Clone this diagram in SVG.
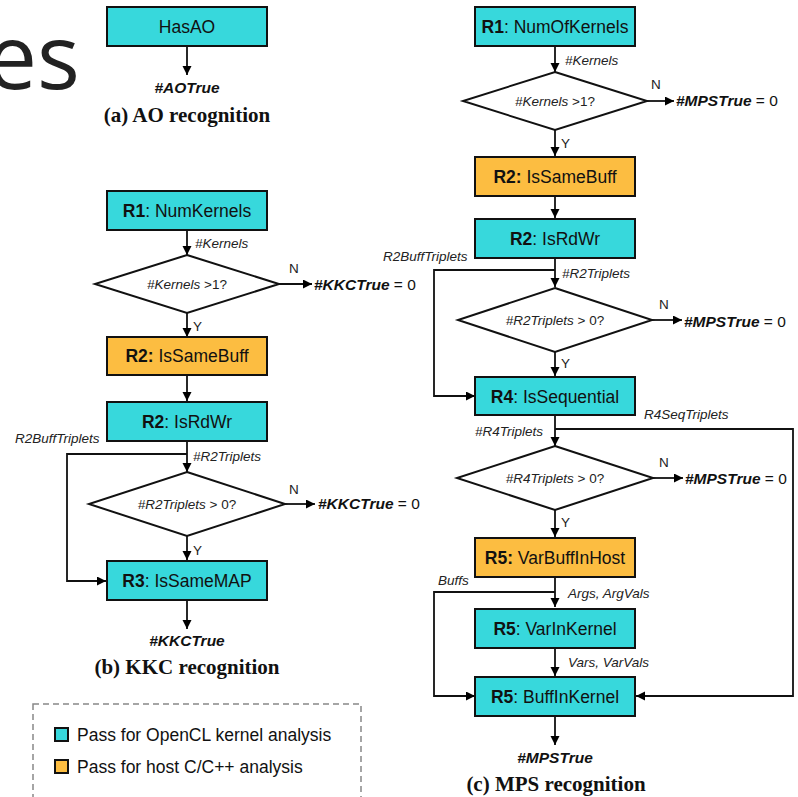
<svg xmlns="http://www.w3.org/2000/svg" width="798" height="797" viewBox="0 0 798 797">
<defs>
<marker id="ah" markerUnits="userSpaceOnUse" markerWidth="10" markerHeight="10" refX="9" refY="4.5" orient="auto">
<path d="M0,0 L9,4.5 L0,9 z" fill="#000"/>
</marker>
</defs>
<style>
.cy{fill:#37d8dc;stroke:#111;stroke-width:2}
.or{fill:#fcbd41;stroke:#111;stroke-width:2}
.dm{fill:#fff;stroke:#111;stroke-width:2}
.bt{font-family:"Liberation Sans",Arial,sans-serif;font-size:17.5px;fill:#111;text-anchor:middle}
.lb{font-family:"Liberation Sans",Arial,sans-serif;font-size:13.5px;fill:#222;font-style:italic}
.yn{font-family:"Liberation Sans",Arial,sans-serif;font-size:13.5px;fill:#222}
.rs{font-family:"Liberation Sans",Arial,sans-serif;font-size:15.5px;fill:#111}
.lg{font-family:"Liberation Sans",Arial,sans-serif;font-size:17.5px;fill:#111}
.bi{font-weight:bold;font-style:italic}
.cap{font-family:"Liberation Serif","Times New Roman",serif;font-size:21px;font-weight:bold;fill:#111;text-anchor:middle}
.cn path{fill:none;stroke:#111;stroke-width:1.8}
.ar{marker-end:url(#ah)}
</style>
<rect width="798" height="797" fill="#fff"/>
<text x="80" y="89" font-family="'Open Sans',sans-serif" font-size="90" fill="#222" text-anchor="end">es</text>

<g id="connectors" class="cn">
<path class="ar" d="M187,46 V75"/>
<path class="ar" d="M187,230 V255"/>
<path class="ar" d="M279,284 H312"/>
<path class="ar" d="M187,313 V337"/>
<path class="ar" d="M187,375 V401"/>
<path class="ar" d="M187,441 V472"/>
<path class="ar" d="M187,454 H67 V581 H106"/>
<path class="ar" d="M285,504 H315"/>
<path class="ar" d="M187,536 V560"/>
<path class="ar" d="M187,600 V629"/>
<path class="ar" d="M555,46 V72"/>
<path class="ar" d="M647,101 H674"/>
<path class="ar" d="M555,130 V156"/>
<path class="ar" d="M555,196 V218"/>
<path class="ar" d="M555,258 V287"/>
<path class="ar" d="M555,270 H434 V396 H475"/>
<path class="ar" d="M652,320 H682"/>
<path class="ar" d="M555,352 V376"/>
<path class="ar" d="M555,415 V446"/>
<path class="ar" d="M555,429 H793 V696 H636"/>
<path class="ar" d="M653,478 H683"/>
<path class="ar" d="M555,510 V537"/>
<path class="ar" d="M555,577 V607"/>
<path class="ar" d="M555,592 H434 V696 H475"/>
<path class="ar" d="M555,648 V676"/>
<path class="ar" d="M555,716 V745"/>
</g>

<g id="a-hasao"><rect class="cy" x="107" y="7" width="160" height="39"/><text class="bt" x="187" y="33">HasAO</text></g>
<text class="rs bi" x="187" y="93" text-anchor="middle">#AOTrue</text>
<text class="cap" x="187" y="122">(a) AO recognition</text>

<g id="b-r1"><rect class="cy" x="107" y="191" width="160" height="39"/><text class="bt" x="187" y="217"><tspan font-weight="bold">R1</tspan>: NumKernels</text></g>
<text class="lb" x="195" y="248">#Kernels</text>
<g id="b-d1"><polygon class="dm" points="187,255 279,284 187,313 95,284"/><text class="yn" x="187" y="289" text-anchor="middle"><tspan font-style="italic">#Kernels</tspan> &gt;1?</text></g>
<text class="yn" x="289" y="273">N</text>
<text class="rs" x="314" y="290"><tspan class="bi">#KKCTrue</tspan> = 0</text>
<text class="yn" x="193" y="331">Y</text>
<g id="b-r2a"><rect class="or" x="107" y="337" width="160" height="38"/><text class="bt" x="187" y="362"><tspan font-weight="bold">R2:</tspan> IsSameBuff</text></g>
<g id="b-r2b"><rect class="cy" x="107" y="402" width="160" height="39"/><text class="bt" x="187" y="428"><tspan font-weight="bold">R2</tspan>: IsRdWr</text></g>
<text class="lb" x="15" y="443">R2BuffTriplets</text>
<text class="lb" x="193" y="461">#R2Triplets</text>
<g id="b-d2"><polygon class="dm" points="187,472 285,504 187,536 89,504"/><text class="yn" x="187" y="509" text-anchor="middle"><tspan font-style="italic">#R2Triplets</tspan> &gt; 0?</text></g>
<text class="yn" x="289" y="494">N</text>
<text class="rs" x="318" y="509"><tspan class="bi">#KKCTrue</tspan> = 0</text>
<text class="yn" x="193" y="555">Y</text>
<g id="b-r3"><rect class="cy" x="107" y="561" width="160" height="39"/><text class="bt" x="187" y="587"><tspan font-weight="bold">R3</tspan>: IsSameMAP</text></g>
<text class="rs bi" x="187" y="646" text-anchor="middle">#KKCTrue</text>
<text class="cap" x="187" y="674">(b) KKC recognition</text>

<g id="legend">
<rect x="33" y="704" width="328" height="100" fill="none" stroke="#888" stroke-width="1.5" stroke-dasharray="6,4"/>
<rect class="cy" x="55" y="728" width="13" height="13" stroke-width="1.8"/>
<text class="lg" x="77" y="741">Pass for OpenCL kernel analysis</text>
<rect class="or" x="55" y="760" width="13" height="13" stroke-width="1.8"/>
<text class="lg" x="77" y="773">Pass for host C/C++ analysis</text>
</g>

<g id="c-r1"><rect class="cy" x="475" y="7" width="160" height="39"/><text class="bt" x="555" y="33"><tspan font-weight="bold">R1</tspan>: NumOfKernels</text></g>
<text class="lb" x="565" y="65">#Kernels</text>
<g id="c-d1"><polygon class="dm" points="555,72 647,101 555,130 463,101"/><text class="yn" x="555" y="106" text-anchor="middle"><tspan font-style="italic">#Kernels</tspan> &gt;1?</text></g>
<text class="yn" x="651" y="89">N</text>
<text class="rs" x="676" y="106"><tspan class="bi">#MPSTrue</tspan> = 0</text>
<text class="yn" x="561" y="148">Y</text>
<g id="c-r2a"><rect class="or" x="475" y="157" width="160" height="39"/><text class="bt" x="555" y="183"><tspan font-weight="bold">R2:</tspan> IsSameBuff</text></g>
<g id="c-r2b"><rect class="cy" x="475" y="219" width="160" height="39"/><text class="bt" x="555" y="245"><tspan font-weight="bold">R2</tspan>: IsRdWr</text></g>
<text class="lb" x="383" y="261">R2BuffTriplets</text>
<text class="lb" x="562" y="278">#R2Triplets</text>
<g id="c-d2"><polygon class="dm" points="555,288 652,320 555,352 458,320"/><text class="yn" x="555" y="325" text-anchor="middle"><tspan font-style="italic">#R2Triplets</tspan> &gt; 0?</text></g>
<text class="yn" x="659" y="309">N</text>
<text class="rs" x="684" y="327"><tspan class="bi">#MPSTrue</tspan> = 0</text>
<text class="yn" x="561" y="368">Y</text>
<g id="c-r4"><rect class="cy" x="475" y="377" width="160" height="38"/><text class="bt" x="555" y="403"><tspan font-weight="bold">R4</tspan>: IsSequential</text></g>
<text class="lb" x="644" y="419">R4SeqTriplets</text>
<text class="lb" x="475" y="436">#R4Triplets</text>
<g id="c-d3"><polygon class="dm" points="555,446 653,478 555,510 457,478"/><text class="yn" x="555" y="483" text-anchor="middle"><tspan font-style="italic">#R4Triplets</tspan> &gt; 0?</text></g>
<text class="yn" x="659" y="467">N</text>
<text class="rs" x="685" y="484"><tspan class="bi">#MPSTrue</tspan> = 0</text>
<text class="yn" x="561" y="527">Y</text>
<g id="c-r5a"><rect class="or" x="475" y="538" width="160" height="39"/><text class="bt" x="555" y="564"><tspan font-weight="bold">R5:</tspan> VarBuffInHost</text></g>
<text class="lb" x="438" y="585">Buffs</text>
<text class="lb" x="568" y="598">Args, ArgVals</text>
<g id="c-r5b"><rect class="cy" x="475" y="609" width="160" height="39"/><text class="bt" x="555" y="635"><tspan font-weight="bold">R5</tspan>: VarInKernel</text></g>
<text class="lb" x="568" y="667">Vars, VarVals</text>
<g id="c-r5c"><rect class="cy" x="475" y="677" width="160" height="39"/><text class="bt" x="555" y="703"><tspan font-weight="bold">R5</tspan>: BuffInKernel</text></g>
<text class="rs bi" x="555" y="763" text-anchor="middle">#MPSTrue</text>
<text class="cap" x="556" y="791">(c) MPS recognition</text>
</svg>
